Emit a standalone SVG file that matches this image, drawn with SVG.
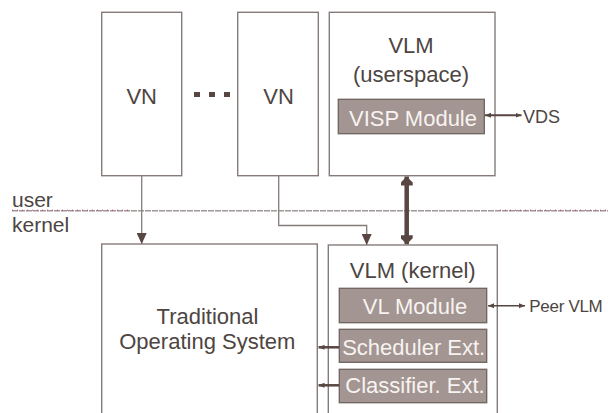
<svg xmlns="http://www.w3.org/2000/svg" width="608" height="413" viewBox="0 0 608 413">
<style>
.box{fill:#fff;stroke:#857c79;stroke-width:1.4}
.mod{fill:#a39591;stroke:#6e625e;stroke-width:1.3}
.t{font-family:"Liberation Sans",Arial,sans-serif;font-size:22px;fill:#4d4542;text-anchor:middle}
.mt{font-family:"Liberation Sans",Arial,sans-serif;font-size:22px;fill:#f7f3f1;text-anchor:middle}
.s{font-family:"Liberation Sans",Arial,sans-serif;fill:#4d4542}
.con{fill:none;stroke:#857c79;stroke-width:1.3}
.dk{fill:none;stroke:#574641;stroke-width:2}
.thick{fill:none;stroke:#574641;stroke-width:4.5}
</style>
<defs>
<marker id="ah" markerUnits="userSpaceOnUse" viewBox="0 0 11 10" markerWidth="11" markerHeight="10" refX="11" refY="5" orient="auto-start-reverse">
<path d="M0,0 L11,5 L0,10 Z" fill="#574641"/>
</marker>
<marker id="sm" markerUnits="userSpaceOnUse" viewBox="0 0 6 6" markerWidth="6" markerHeight="6" refX="6" refY="3" orient="auto-start-reverse">
<path d="M0,0.5 L6,3 L0,5.5 Z" fill="#574641"/>
</marker>
<marker id="big" markerUnits="userSpaceOnUse" viewBox="0 0 9 12" markerWidth="9" markerHeight="12" refX="9" refY="6" orient="auto-start-reverse">
<path d="M0,0 L3,0 L9,6 L3,12 L0,12 Z" fill="#574641"/>
</marker>
</defs>

<!-- user / kernel boundary -->
<line x1="12" y1="210.7" x2="608" y2="210.7" stroke="#9f9896" stroke-width="1.6" stroke-dasharray="6 1"/>
<line x1="12" y1="210.2" x2="130" y2="210.2" stroke="#c03a70" stroke-width="1" stroke-dasharray="1 4"/>
<line x1="500" y1="210.2" x2="606" y2="210.2" stroke="#c03a70" stroke-width="1" stroke-dasharray="1 4"/>
<text class="s" x="12" y="206.5" font-size="21">user</text>
<text class="s" x="12" y="231.5" font-size="21">kernel</text>

<g id="vn1">
<rect class="box" x="101.7" y="12.3" width="80" height="163.4"/>
<text class="t" x="141.7" y="104">VN</text>
</g>
<g id="dots">
<rect x="194" y="92" width="6" height="5" fill="#574641"/>
<rect x="209" y="92" width="6" height="5" fill="#574641"/>
<rect x="224" y="92" width="6" height="5" fill="#574641"/>
</g>
<g id="vn2">
<rect class="box" x="237.7" y="12.3" width="80.6" height="163.4"/>
<text class="t" x="278.5" y="104">VN</text>
</g>

<g id="vlm-user">
<rect class="box" x="329.3" y="12.3" width="165.7" height="163.4"/>
<text class="t" x="411" y="53.3">VLM</text>
<text class="t" x="411" y="81.5">(userspace)</text>
<g id="visp">
<rect class="mod" x="338.3" y="99.3" width="146" height="34.4"/>
<text class="mt" x="413" y="125.8">VISP Module</text>
</g>
</g>
<text class="s" x="523" y="123.3" font-size="18">VDS</text>

<g id="tos">
<rect class="box" x="101.7" y="244" width="215.6" height="180"/>
<text class="t" x="207.5" y="324">Traditional</text>
<text class="t" x="207.3" y="349.3">Operating System</text>
</g>

<g id="vlm-kernel">
<rect class="box" x="328.3" y="245" width="169" height="180"/>
<text class="t" x="412.7" y="277.7">VLM (kernel)</text>
<g id="vl">
<rect class="mod" x="339.3" y="288.3" width="147.4" height="34.4"/>
<text class="mt" x="415" y="313.5">VL Module</text>
</g>
<g id="sched">
<rect class="mod" x="339.3" y="329.3" width="147.4" height="33"/>
<text class="mt" x="413.7" y="355">Scheduler Ext.</text>
</g>
<g id="class">
<rect class="mod" x="339.3" y="369.3" width="147.4" height="33.4"/>
<text class="mt" x="415" y="393.3">Classifier. Ext.</text>
</g>
</g>
<text class="s" x="529.3" y="311.7" font-size="17" letter-spacing="-0.3">Peer VLM</text>

<g id="connectors">
<path class="con" d="M141.7,175.7 V244" marker-end="url(#ah)"/>
<path class="con" d="M278.7,175.7 V225.5 H366.7 V245" marker-end="url(#ah)"/>
<path class="thick" d="M406.7,176.5 V244.2" marker-start="url(#big)" marker-end="url(#big)"/>
<path class="dk" d="M485,115.3 H521.5" marker-start="url(#sm)" marker-end="url(#sm)"/>
<path class="con" style="stroke:#574641;stroke-width:1.5" d="M488,305.7 H525" marker-start="url(#sm)" marker-end="url(#sm)"/>
<path class="dk" style="stroke-width:2.5" d="M318.5,347.3 H339" marker-start="url(#sm)"/>
<path class="dk" style="stroke-width:2.5" d="M318.5,385.3 H339" marker-start="url(#sm)"/>
</g>
</svg>
